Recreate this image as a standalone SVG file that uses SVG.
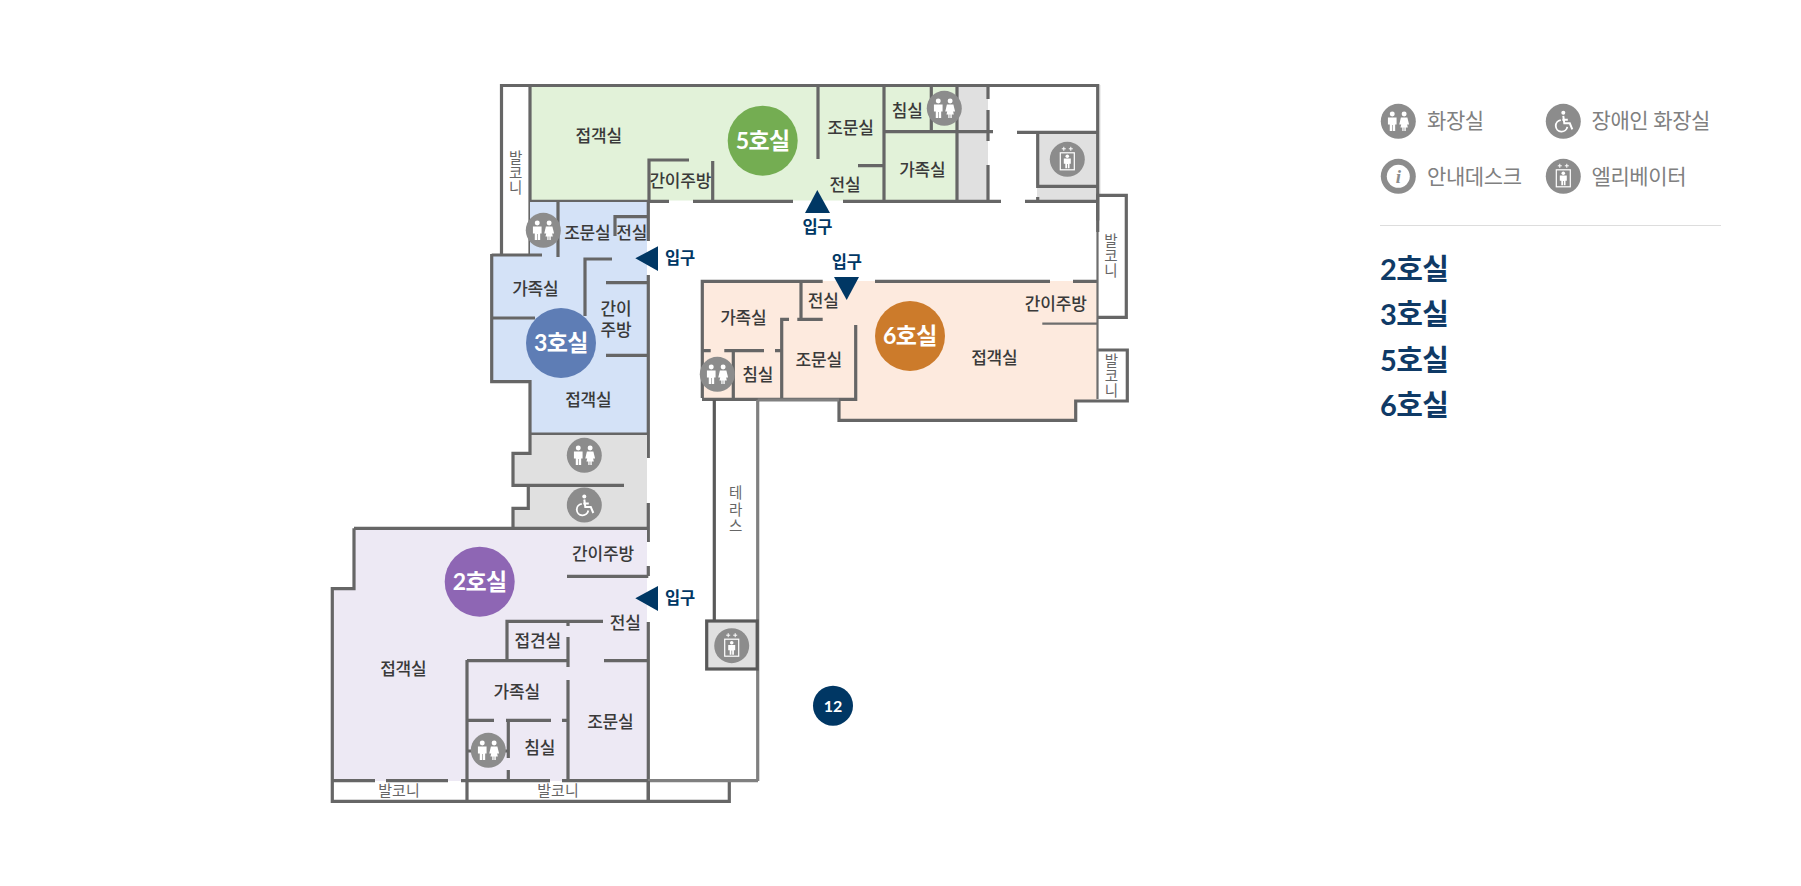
<svg xmlns="http://www.w3.org/2000/svg" xmlns:xlink="http://www.w3.org/1999/xlink" width="1801" height="886" viewBox="0 0 1801 886">
<style>
text{font-family:"Lato","Noto Sans CJK KR",sans-serif;text-anchor:middle;dominant-baseline:central}
.l{font-size:17px;font-weight:500;fill:#3a3a3a;letter-spacing:-.2px}
.b{font-size:14.500px;fill:#666}
.h{font-size:15px;fill:#666}
.e{font-size:16.500px;font-weight:700;fill:#003764;letter-spacing:-.3px}
.r{font-size:23px;font-weight:700;fill:#fff;letter-spacing:-.6px}
.g{font-size:21px;fill:#808080;text-anchor:start;letter-spacing:-.4px}
.n{font-size:29px;font-weight:700;fill:#0f3a66;text-anchor:start;letter-spacing:-.6px}
.w{fill:none;stroke:#666;stroke-width:3.200}
.t{fill:none;stroke:#808080;stroke-width:3.200}
.f{fill:#003764}
.c{fill:#8c8c8c}
</style>
<defs>
<g id="i-wc"><circle class="c" r="17.500"/><g fill="#fff" transform="scale(1.080)"><circle cx="-5.600" cy="-6.800" r="2.300"/><path d="M-9.600-3.600h8v6.600h-1.300V9h-2.200V3.400h-.6V9h-2.200V3h-1.700z"/><circle cx="5.400" cy="-6.800" r="2.300"/><path d="M2.400-3.600h6L10 3H8.200L8.800 5.800H6.900V9H5.600V5.800H4.900V9H3.700V5.800H2L2.700 3H.9z"/></g></g>
<g id="i-el"><circle class="c" r="17.500"/><rect x="-7" y="-6.500" width="14" height="17" fill="none" stroke="#fff" stroke-width="1.200"/><path d="M-5.500-10.500h4M-3.500-12.500v4M1.500-10.500h4M3.500-12.500v4" stroke="#fff" stroke-width="1"/><g fill="#fff"><circle cy="-3" r="1.800"/><path d="M-3.500-.8h7v5.300h-1.300V9h-1.700V4.800h-.8V9h-1.700V4.500H-3.500z"/></g></g>
<g id="i-wh"><circle class="c" r="17.500"/><circle cx="0" cy="-8.500" r="2" fill="#fff"/><path d="M0-5.500 1 2H6.500L9 8M-1-1.500H4.500" fill="none" stroke="#fff" stroke-width="2"/><path d="M-2.500-1.200A5.800 5.800 0 1 0 4 5.500" fill="none" stroke="#fff" stroke-width="1.800"/></g>
<g id="i-in"><circle class="c" r="17.500"/><circle r="11.500" fill="#fff"/><text y="0" style="font-family:'Liberation Serif',serif;font-size:19px;font-weight:700;font-style:italic;fill:#8c8c8c">i</text></g>
</defs>
<rect width="1801" height="886" fill="#fff"/>

<g id="room-5">
<rect x="530" y="86" width="427" height="114.500" fill="#e2f2d9"/>
<rect x="957" y="86" width="31" height="114.500" fill="#e0e0e0"/>
<rect x="1037" y="132" width="60" height="69" fill="#e0e0e0"/>
<path d="M1100 85V195" stroke="#ddd" stroke-width="1"/>
<path class="w" d="M501.500 255V85.500H1097.700V220.500M530 85V255M818 85V159M649 201V160H689M712.700 161V201M530 201.300H669M693 201.300H793M843 201.300H1001M1025 201.300H1097.700M884 85V201M931.300 85V131.700M884 131.700H993M957 85V201M988 85V99M988 110V141M988 165V201M858 165.700H884M1017 132.300H1097.700M1037.700 132.300V186.300H1097.700M1037.700 197V201"/>
<text class="l" x="598.700" y="135">접객실</text><text class="l" x="680.300" y="180.500">간이주방</text><text class="l" x="850.500" y="127">조문실</text><text class="l" x="845" y="184">전실</text><text class="l" x="907.300" y="110">침실</text><text class="l" x="922.300" y="169.500">가족실</text>
<text class="b" x="515.700" y="157">발</text><text class="b" x="515.700" y="172">코</text><text class="b" x="515.700" y="187">니</text>
<use xlink:href="#i-wc" href="#i-wc" x="944.300" y="108.300"/><use xlink:href="#i-el" href="#i-el" x="1067.300" y="159.300"/>
<circle cx="762.700" cy="140.700" r="35" fill="#74ad52"/><text class="r" x="762.700" y="139.700">5호실</text>
<path class="f" d="M817.300 190 830 213H805z"/><text class="e" x="817.300" y="227.300">입구</text>
</g>

<g id="room-3">
<path d="M530 202H647V434H530V382H492V255H530z" fill="#d4e2f7"/>
<path class="w" d="M648.300 201V241M648.300 275V458M615 236V216.700H648M558 201V257M491.700 255H542M491.700 254V381.700H530V434M530 434H648M585 316V259H612M606 282.700H648M606 355.300H648M492 318H535"/>
<text class="l" x="587.300" y="232">조문실</text><text class="l" x="631.700" y="232">전실</text><text class="l" x="535.300" y="288.200">가족실</text><text class="l" x="616" y="308.500">간이</text><text class="l" x="616" y="329">주방</text><text class="l" x="588.300" y="399.500">접객실</text>
<use xlink:href="#i-wc" href="#i-wc" x="543.300" y="230.300"/>
<circle cx="561" cy="343" r="35" fill="#5e7db5"/><text class="r" x="561" y="342">3호실</text>
<path class="f" d="M635.300 258.300 658 246.300V271z"/><text class="e" x="680" y="258.300">입구</text>
</g>

<g id="restrooms">
<path d="M530 435H647V528H513V508H528V485H513V453H530z" fill="#e0e0e0"/>
<path class="w" d="M530 434V453.300H513V485.300H624M528.300 485V508.300H513V528M648.300 503V542"/>
<use xlink:href="#i-wc" href="#i-wc" x="584.300" y="455.300"/><use xlink:href="#i-wh" href="#i-wh" x="584.300" y="505"/>
</g>

<g id="room-2">
<path d="M354 528H647V781H332V589H354z" fill="#ede9f4"/>
<path class="w" d="M354 528.300H648M354 528.300V588.700H332.300V801.300H729.300V781M648.300 566V576M567 576.300H648.300M648.300 622V801M507 660V621.300H603M467 660.700H568M604 660.700H648M568 620V626M568 637V667M568 680V781M468 720.300H494M506 720.300H551M562 720.300H568M508.300 720V758M508.300 770V781M467 660V801M467 751H472M503 751H508M332 780.700H375M386 780.700H448M461 780.700H550M562 780.700H648"/>
<path class="t" d="M648 780.700H758"/>
<path class="w" d="M648.300 781V801"/>
<text class="l" x="603" y="553.300">간이주방</text><text class="l" x="625.300" y="622.500">전실</text><text class="l" x="537.700" y="640.500">접견실</text><text class="l" x="403.300" y="668.500">접객실</text><text class="l" x="516.700" y="691.200">가족실</text><text class="l" x="610.300" y="721.200">조문실</text><text class="l" x="539.700" y="747.200">침실</text>
<text class="h" x="399" y="790.300">발코니</text><text class="h" x="558" y="790.300">발코니</text>
<use xlink:href="#i-wc" href="#i-wc" x="488.300" y="750.300"/>
<circle cx="479.700" cy="581.700" r="35" fill="#8e66b4"/><text class="r" x="479.700" y="580.700">2호실</text>
<path class="f" d="M635.300 598.300 658 586V611z"/><text class="e" x="680" y="598.300">입구</text>
</g>

<g id="room-6">
<path d="M703 281H1097V400H1076V420H839V399H703z" fill="#fdeade"/>
<path class="w" d="M702.300 398V281.300H822.700M875 281.300H1050M1073 281.300H1097.700M1097.700 232V195.300H1126.300V317.300H1097.700M1097.700 350H1127.300V401H1075.700V420.300H839V399M702 399.300H855.700V325M801 281V320M797.300 319.300H822.700M781.700 399V319.300H789M702 350.700H710.700M724.300 350.700H764M775 350.700H782M733.300 351V399"/>
<path d="M1042.300 323.700H1097M1097.500 232V399" fill="none" stroke="#6e6e6e" stroke-width="2.200"/>
<text class="l" x="743.300" y="317">가족실</text><text class="l" x="823.300" y="300">전실</text><text class="l" x="818.700" y="359.500">조문실</text><text class="l" x="757.700" y="374.800">침실</text><text class="l" x="1055.700" y="303.300">간이주방</text><text class="l" x="994.300" y="357">접객실</text>
<text class="b" x="1111" y="240">발</text><text class="b" x="1111" y="255">코</text><text class="b" x="1111" y="270">니</text>
<text class="b" x="1111.300" y="360">발</text><text class="b" x="1111.300" y="375">코</text><text class="b" x="1111.300" y="390">니</text>
<use xlink:href="#i-wc" href="#i-wc" x="717.300" y="374.300"/>
<circle cx="910" cy="336" r="35" fill="#cc7b2b"/><text class="r" x="910" y="335">6호실</text>
<path class="f" d="M834 277H859L846.700 300z"/><text class="e" x="846.700" y="261.700">입구</text>
</g>

<g id="terrace">
<path class="t" d="M757.700 400H839M757.700 400V781"/>
<path d="M714.300 400V620" fill="none" stroke="#595959" stroke-width="3.200"/>
<rect x="706.700" y="621" width="50.500" height="48" fill="#e0e0e0" stroke="#595959" stroke-width="3.200"/>
<use xlink:href="#i-el" href="#i-el" x="731.700" y="645.700"/>
<text class="b" x="735.700" y="492">테</text><text class="b" x="735.700" y="509">라</text><text class="b" x="735.700" y="525">스</text>
</g>

<g id="badge-12"><circle cx="833" cy="705.700" r="20" fill="#003764"/><text x="833" y="705.700" style="font-size:16px;font-weight:700;fill:#fff">12</text></g>

<g id="legend">
<use xlink:href="#i-wc" href="#i-wc" x="1398.300" y="121.300"/><text class="g" x="1427" y="119.500">화장실</text>
<use xlink:href="#i-wh" href="#i-wh" x="1563.300" y="121.300"/><text class="g" x="1591.500" y="119.500">장애인 화장실</text>
<use xlink:href="#i-in" href="#i-in" x="1398.300" y="176.300"/><text class="g" x="1427" y="175.500">안내데스크</text>
<use xlink:href="#i-el" href="#i-el" x="1563.300" y="176.300"/><text class="g" x="1591.500" y="175">엘리베이터</text>
<path d="M1380 225.500H1721" stroke="#ddd" stroke-width="1"/>
<text class="n" x="1380" y="268.700">2호실</text><text class="n" x="1380" y="313.700">3호실</text><text class="n" x="1380" y="359.200">5호실</text><text class="n" x="1380" y="404.200">6호실</text>
</g>
</svg>
